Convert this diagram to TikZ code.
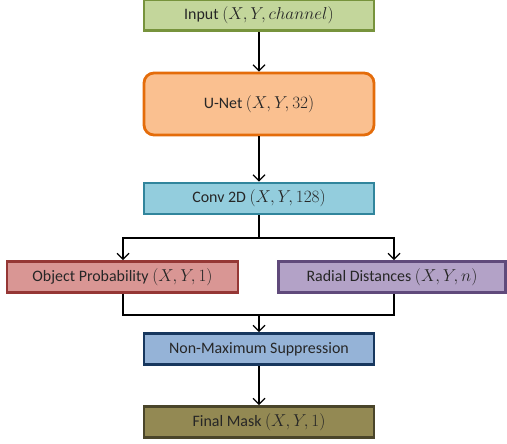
\documentclass[tikz,border=0pt]{standalone}
\usepackage{fontspec}
\setmainfont{Carlito}
\usetikzlibrary{arrows.meta}
\definecolor{inF}{HTML}{C3D69B}\definecolor{inB}{HTML}{77933C}
\definecolor{unF}{HTML}{FAC090}\definecolor{unB}{HTML}{E46C0A}
\definecolor{cvF}{HTML}{93CDDD}\definecolor{cvB}{HTML}{31859C}
\definecolor{obF}{HTML}{D99694}\definecolor{obB}{HTML}{953735}
\definecolor{raF}{HTML}{B3A2C7}\definecolor{raB}{HTML}{604A7B}
\definecolor{nmF}{HTML}{95B3D7}\definecolor{nmB}{HTML}{17375E}
\definecolor{fmF}{HTML}{938953}\definecolor{fmB}{HTML}{4A452A}
\begin{document}
\begin{tikzpicture}[x=1bp,y=-1bp,
  box/.style={draw, line width=2.8bp, minimum height=31bp, inner sep=0pt, font=\fontsize{16}{18}\selectfont, text=black!85},
  wide/.style={box, minimum width=230bp},
  arr/.style={-{Straight Barb[length=6bp,width=12bp]}, line width=1.2bp},
  ln/.style={line width=1.2bp}]
\useasboundingbox (0,0) rectangle (507,444);
\node[wide, fill=inF, draw=inB] (in) at (259,15) {Input $(X,Y,channel)$};
\node[wide, fill=unF, draw=unB, minimum height=62bp, rounded corners=10bp] (un) at (259,104) {U-Net $(X,Y,32)$};
\node[wide, fill=cvF, draw=cvB] (cv) at (259,198.5) {Conv 2D $(X,Y,128)$};
\node[box, minimum width=231bp, fill=obF, draw=obB] (ob) at (122.5,277) {Object Probability $(X,Y,1)$};
\node[box, minimum width=227bp, fill=raF, draw=raB] (ra) at (392,277) {Radial Distances $(X,Y,n)$};
\node[wide, fill=nmF, draw=nmB] (nm) at (259,349) {Non-Maximum Suppression};
\node[wide, fill=fmF, draw=fmB] (fm) at (259,422) {Final Mask $(X,Y,1)$};
\coordinate (s) at (259,238);
\coordinate (m) at (259,315);
\draw[arr] (in) -- (un);
\draw[arr] (un) -- (cv);
\draw[ln] (cv) -- (s);
\draw[arr] (s) -| (ob.north -| 123,0);
\draw[arr] (s) -| (ra.north -| 394,0);
\draw[ln] (ob.south -| 123,0) |- (m);
\draw[ln] (ra.south -| 394,0) |- (m);
\draw[arr] (m) -- (nm);
\draw[arr] (nm) -- (fm);
\end{tikzpicture}
\end{document}
